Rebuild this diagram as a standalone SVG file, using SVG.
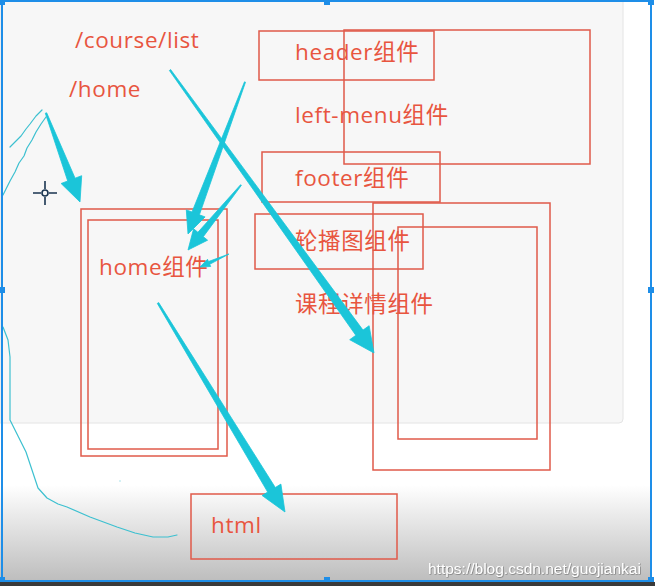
<svg xmlns="http://www.w3.org/2000/svg" width="655" height="586" viewBox="0 0 655 586">
<defs>
<linearGradient id="fade" x1="0" y1="0" x2="0" y2="1">
<stop offset="0" stop-color="#ffffff"/>
<stop offset="1" stop-color="#bcbcbc"/>
</linearGradient>
<filter id="sh" x="-5%" y="-30%" width="110%" height="160%">
<feDropShadow dx="0.6" dy="0.6" stdDeviation="0.6" flood-color="#555" flood-opacity="0.8"/>
</filter>
<style>
.box{fill:none;stroke:#e05a4a;stroke-width:1.5}
.lbl{font-family:"Open Sans","Noto Sans CJK SC",sans-serif;font-size:22.5px;letter-spacing:0.6px;fill:#e8553f}
.arr{fill:#1bc5d9;stroke:#1bc5d9;stroke-width:0.8;stroke-linejoin:round}
.pen{fill:none;stroke:#3cc0d0;stroke-width:1.2;stroke-linecap:round;stroke-linejoin:round}
.hdl{fill:#1e8ee8}
</style>
</defs>
<rect x="0" y="0" width="655" height="586" fill="#ffffff"/>
<path d="M0 0H623V419Q623 423 619 423H0Z" fill="#f7f7f7" stroke="#e4e4e4" stroke-width="1"/>
<rect x="0" y="485" width="652" height="98" fill="url(#fade)"/>
<rect x="0" y="582" width="655" height="4" fill="#3a3a3a"/>
<g id="header"><rect class="box" x="259" y="31" width="175" height="49"/><text class="lbl" x="295" y="60">header组件</text></g>
<g id="layout"><rect class="box" x="344" y="30" width="246" height="134"/></g>
<g id="left-menu"><text class="lbl" x="295" y="123">left-menu组件</text></g>
<g id="footer"><rect class="box" x="262" y="152" width="178" height="50"/><text class="lbl" x="295" y="186">footer组件</text></g>
<g id="carousel"><rect class="box" x="255" y="214" width="168" height="55"/><text class="lbl" x="295" y="249">轮播图组件</text></g>
<g id="course-detail"><rect class="box" x="373" y="203" width="177" height="267"/><rect class="box" x="398" y="227" width="139" height="212"/><text class="lbl" x="295" y="312">课程详情组件</text></g>
<g id="home"><rect class="box" x="81" y="209" width="146" height="247"/><rect class="box" x="88" y="220" width="130" height="229"/><text class="lbl" x="99" y="275">home组件</text></g>
<g id="html"><rect class="box" x="191" y="494" width="206" height="65"/><text class="lbl" x="211" y="533">html</text></g>
<g id="route-course"><text class="lbl" x="75" y="48">/course/list</text></g>
<g id="route-home"><text class="lbl" x="69" y="97">/home</text></g>
<g id="connectors">
<polygon class="arr" points="45.3,113.2 67.7,181 61.1,183.5 80,202 81.7,175.7 75.1,178.2 46.7,112.8"/>
<polygon class="arr" points="244.5,81.8 192,212 186.3,209.9 188,234 205.1,216.9 199.4,214.8 245.5,82.2"/>
<polygon class="arr" points="240.6,184.7 197.9,232.3 193.6,228.8 188,250 207.6,240.2 203.3,236.7 241.4,185.3"/>
<polygon class="arr" points="229,254 208.5,261.5 207.5,259.3 200,267 210.7,266.5 209.7,264.3"/>
<polygon class="arr" points="169.4,70.5 355.8,335.3 349.7,339.7 374,353 369.1,325.7 363,330.1 170.6,69.5"/>
<polygon class="arr" points="157.3,303.4 267.7,492.1 262.1,495.5 285,512 280.9,484.1 275.3,487.5 158.7,302.6"/>
</g>
<g id="pen-strokes">
<path class="pen" d="M42 110L36 116L30 124L26 129L21 136L16 141L10 147"/>
<path class="pen" d="M46 117L41 124L36 132L32 140L27 148L24 156L19 163L15 172L10 181L6 189L3 195"/>
<path class="pen" d="M3 327L8 340L10 357L10 390L10 420L18 436L26 452L33 473L38 488L47 498L58 504L67 507L90 517L117 527L135 533L153 537L168 537L177 535"/>
<circle cx="120" cy="481" r="0.8" fill="#9fe0e8"/>
</g>
<g id="cursor" stroke="#1a3550" stroke-width="1.6" fill="none">
<path d="M33 193H41M49 193H57M45 181V189M45 197V205"/>
<circle cx="45" cy="193" r="3"/>
</g>
<g id="selection">
<rect x="2" y="1" width="649" height="580" fill="none" stroke="#1e8ee8" stroke-width="2"/>
<rect class="hdl" x="0" y="0" width="5" height="5"/>
<rect class="hdl" x="324" y="0" width="6" height="5"/>
<rect class="hdl" x="648" y="0" width="6" height="5"/>
<rect class="hdl" x="0" y="287" width="5" height="6"/>
<rect class="hdl" x="648" y="287" width="6" height="6"/>
<rect class="hdl" x="0" y="577" width="5" height="5"/>
<rect class="hdl" x="324" y="577" width="6" height="5"/>
<rect class="hdl" x="648" y="577" width="6" height="5"/>
</g>
<text x="428" y="574" font-family="'Liberation Sans',Arial,sans-serif" font-size="15.5" fill="#ffffff" filter="url(#sh)">https://blog.csdn.net/guojiankai</text>
</svg>
